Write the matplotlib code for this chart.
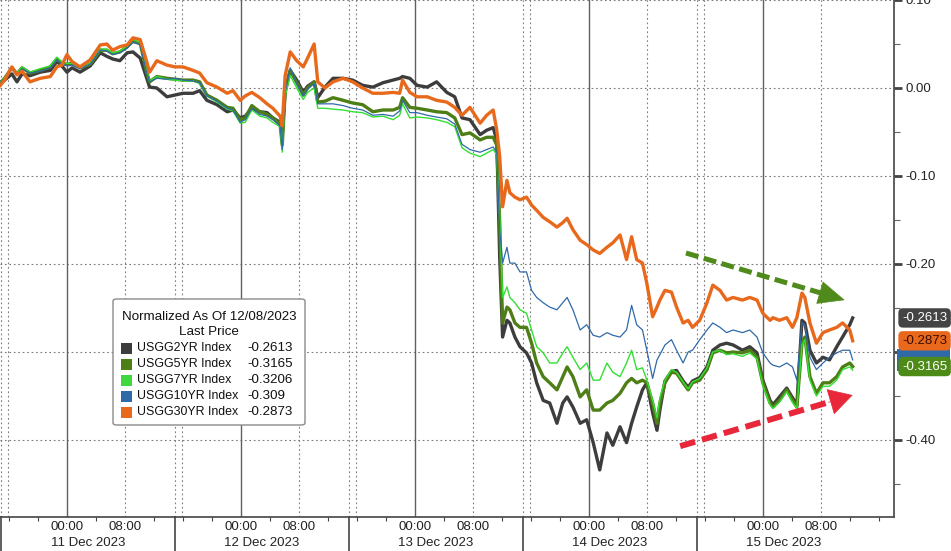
import matplotlib
matplotlib.use("Agg")
import matplotlib.pyplot as plt
import numpy as np
from matplotlib.transforms import blended_transform_factory
from matplotlib.patches import FancyBboxPatch, Rectangle
from matplotlib.ticker import FixedLocator, FuncFormatter

plt.rcParams['font.family'] = ['Liberation Sans', 'DejaVu Sans']

# ---------------- data (hours from 11 Dec 2023 00:00) ----------------
hours = [-9.2, -8.6, -7.6, -6.9, -6.2, -5.1, -3.7, -2.3, -1.4, -0.7,
         0.0, 0.7, 1.8, 3.2, 4.6, 5.5, 6.3, 7.3, 8.3, 9.1,
         10.1, 11.0, 11.4, 12.4, 13.8, 14.9, 16.0, 17.4, 18.3, 19.3,
         20.7, 22.1, 22.9, 23.9, 24.6, 25.5, 26.6, 27.6, 28.4, 29.4,
         29.7, 30.1, 30.8, 31.7, 32.6, 33.2, 34.1, 34.6, 35.6, 36.7,
         38.1, 39.4, 40.8, 42.2, 43.6, 45.0, 45.9, 46.3, 47.3, 48.3,
         49.7, 51.0, 52.4, 53.5, 54.5, 55.6, 57.0, 57.9, 58.8, 59.3,
         59.7, 60.1, 60.7, 61.1, 61.8, 62.5, 63.4, 64.1, 64.8, 65.7,
         66.6, 67.6, 68.4, 69.0, 69.8, 70.8, 71.7, 72.6, 73.5, 74.5,
         75.3, 76.3, 77.2, 77.9, 78.6, 79.4, 80.0, 80.8, 81.4, 81.8,
         82.5, 83.4, 84.1, 85.0, 85.7, 86.3, 87.3, 88.3, 89.1, 90.1,
         91.0, 91.9, 93.2, 94.2, 95.2, 96.0, 97.0, 97.4, 98.3, 99.3,
         100.1, 100.7, 101.4, 101.8, 102.5, 103.4, 104.3, 105.2, 106.2, 107.0,
         108.0, 108.4]

usgg2yr = [0.006, 0.009, 0.016, 0.007, 0.016, 0.014, 0.018, 0.020, 0.030, 0.025,
           0.018, 0.023, 0.018, 0.025, 0.040, 0.036, 0.033, 0.031, 0.040, 0.041,
           0.034, 0.011, 0.001, 0.000, -0.010, -0.008, -0.006, -0.006, -0.003, -0.014,
           -0.019, -0.027, -0.025, -0.034, -0.032, -0.023, -0.027, -0.028, -0.034, -0.039,
           -0.053, -0.002, 0.020, 0.009, -0.005, 0.002, 0.007, -0.011, 0.001, 0.011,
           0.011, 0.009, 0.003, 0.001, 0.006, 0.009, 0.011, 0.013, 0.011, 0.003,
           0.001, 0.007, -0.005, -0.010, -0.034, -0.036, -0.053, -0.048, -0.045, -0.059,
           -0.192, -0.283, -0.264, -0.267, -0.283, -0.294, -0.301, -0.3125, -0.335, -0.355,
           -0.358, -0.381, -0.358, -0.351, -0.3625, -0.381, -0.377, -0.403, -0.434, -0.392,
           -0.406, -0.385, -0.403, -0.381, -0.3625, -0.343, -0.335, -0.369, -0.389, -0.366,
           -0.333, -0.322, -0.321, -0.333, -0.340, -0.333, -0.329, -0.317, -0.298, -0.292,
           -0.290, -0.292, -0.298, -0.294, -0.301, -0.332, -0.355, -0.360, -0.351, -0.341,
           -0.352, -0.360, -0.264, -0.267, -0.298, -0.3125, -0.306, -0.309, -0.294, -0.283,
           -0.269, -0.2613]

usgg5yr = [0.006, 0.011, 0.023, 0.016, 0.023, 0.017, 0.020, 0.024, 0.033, 0.028,
           0.027, 0.028, 0.023, 0.027, 0.043, 0.043, 0.039, 0.041, 0.047, 0.053,
           0.051, 0.018, 0.007, 0.013, 0.011, 0.010, 0.009, 0.009, 0.007, -0.008,
           -0.014, -0.022, -0.023, -0.036, -0.034, -0.020, -0.027, -0.030, -0.034, -0.041,
           -0.065, -0.005, 0.020, 0.006, -0.008, 0.000, 0.007, -0.016, -0.015, -0.011,
           -0.014, -0.017, -0.019, -0.027, -0.025, -0.025, -0.022, -0.011, -0.022, -0.023,
           -0.025, -0.027, -0.028, -0.034, -0.053, -0.051, -0.059, -0.056, -0.056, -0.065,
           -0.153, -0.267, -0.249, -0.252, -0.267, -0.272, -0.272, -0.290, -0.3125, -0.328,
           -0.335, -0.343, -0.328, -0.317, -0.328, -0.351, -0.343, -0.366, -0.366, -0.358,
           -0.355, -0.347, -0.335, -0.330, -0.335, -0.332, -0.335, -0.358, -0.381, -0.358,
           -0.335, -0.323, -0.324, -0.335, -0.343, -0.335, -0.332, -0.320, -0.301, -0.298,
           -0.301, -0.300, -0.301, -0.298, -0.306, -0.335, -0.358, -0.3625, -0.355, -0.343,
           -0.355, -0.3625, -0.290, -0.283, -0.328, -0.347, -0.335, -0.335, -0.328, -0.317,
           -0.3125, -0.3165]

usgg7yr = [0.006, 0.011, 0.024, 0.017, 0.024, 0.018, 0.022, 0.025, 0.035, 0.030,
           0.028, 0.028, 0.023, 0.028, 0.044, 0.044, 0.040, 0.042, 0.048, 0.055,
           0.052, 0.019, 0.008, 0.013, 0.010, 0.009, 0.008, 0.008, 0.005, -0.009,
           -0.016, -0.024, -0.026, -0.040, -0.039, -0.025, -0.032, -0.034, -0.039, -0.044,
           -0.073, -0.009, 0.014, 0.000, -0.013, -0.005, 0.000, -0.023, -0.023, -0.024,
           -0.025, -0.027, -0.028, -0.033, -0.032, -0.036, -0.031, -0.018, -0.034, -0.033,
           -0.034, -0.036, -0.039, -0.044, -0.068, -0.074, -0.078, -0.074, -0.070, -0.076,
           -0.144, -0.238, -0.226, -0.238, -0.244, -0.252, -0.256, -0.275, -0.294, -0.301,
           -0.3125, -0.3125, -0.301, -0.294, -0.306, -0.320, -0.3125, -0.332, -0.332, -0.3125,
           -0.323, -0.328, -0.3125, -0.298, -0.320, -0.318, -0.332, -0.355, -0.375, -0.352,
           -0.332, -0.320, -0.323, -0.334, -0.342, -0.334, -0.330, -0.318, -0.300, -0.298,
           -0.303, -0.302, -0.305, -0.301, -0.308, -0.338, -0.360, -0.364, -0.357, -0.345,
           -0.357, -0.364, -0.292, -0.286, -0.332, -0.350, -0.339, -0.339, -0.332, -0.320,
           -0.317, -0.3206]

usgg10yr = [0.006, 0.010, 0.022, 0.015, 0.022, 0.017, 0.019, 0.023, 0.032, 0.027,
            0.025, 0.026, 0.022, 0.027, 0.043, 0.042, 0.038, 0.040, 0.045, 0.052,
            0.049, 0.017, 0.007, 0.011, 0.010, 0.011, 0.009, 0.008, 0.006, -0.009,
            -0.015, -0.023, -0.025, -0.039, -0.036, -0.023, -0.030, -0.032, -0.036, -0.043,
            -0.070, -0.005, 0.023, 0.005, -0.009, -0.001, 0.005, -0.018, -0.018, -0.018,
            -0.020, -0.023, -0.025, -0.031, -0.030, -0.032, -0.026, -0.014, -0.028, -0.028,
            -0.031, -0.033, -0.035, -0.041, -0.064, -0.070, -0.073, -0.070, -0.067, -0.073,
            -0.161, -0.199, -0.181, -0.199, -0.199, -0.209, -0.209, -0.230, -0.238, -0.244,
            -0.249, -0.252, -0.244, -0.238, -0.252, -0.275, -0.269, -0.281, -0.283, -0.278,
            -0.281, -0.283, -0.275, -0.247, -0.269, -0.275, -0.298, -0.330, -0.309, -0.303,
            -0.292, -0.286, -0.298, -0.3125, -0.300, -0.298, -0.286, -0.275, -0.267, -0.272,
            -0.278, -0.275, -0.278, -0.275, -0.283, -0.301, -0.3125, -0.315, -0.317, -0.3125,
            -0.317, -0.332, -0.267, -0.269, -0.306, -0.320, -0.3125, -0.306, -0.301, -0.298,
            -0.298, -0.309]

usgg30yr = [0.003, 0.009, 0.024, 0.015, 0.019, 0.007, 0.011, 0.013, 0.024, 0.026,
            0.038, 0.030, 0.024, 0.032, 0.049, 0.050, 0.043, 0.047, 0.049, 0.057,
            0.055, 0.030, 0.018, 0.031, 0.026, 0.024, 0.024, 0.020, 0.017, 0.006,
            0.001, -0.006, -0.003, -0.014, -0.009, -0.005, -0.011, -0.018, -0.023, -0.032,
            -0.043, 0.014, 0.041, 0.031, 0.024, 0.034, 0.050, 0.007, 0.000, 0.007,
            0.011, 0.007, 0.000, -0.006, -0.006, -0.005, -0.006, 0.009, -0.005, -0.010,
            -0.010, -0.014, -0.016, -0.022, -0.031, -0.022, -0.040, -0.031, -0.025, -0.048,
            -0.078, -0.135, -0.105, -0.119, -0.124, -0.127, -0.124, -0.133, -0.139, -0.147,
            -0.152, -0.158, -0.153, -0.148, -0.161, -0.173, -0.178, -0.184, -0.188, -0.181,
            -0.176, -0.167, -0.195, -0.169, -0.195, -0.199, -0.222, -0.260, -0.249, -0.241,
            -0.230, -0.232, -0.249, -0.267, -0.264, -0.272, -0.264, -0.244, -0.224, -0.230,
            -0.241, -0.238, -0.241, -0.238, -0.241, -0.256, -0.264, -0.261, -0.264, -0.261,
            -0.272, -0.261, -0.233, -0.238, -0.267, -0.290, -0.278, -0.275, -0.272, -0.267,
            -0.275, -0.2873]

series_names = ["USGG2YR Index", "USGG5YR Index", "USGG7YR Index",
                "USGG10YR Index", "USGG30YR Index"]
series_values = [usgg2yr, usgg5yr, usgg7yr, usgg10yr, usgg30yr]
last_values = [-0.2613, -0.3165, -0.3206, -0.309, -0.2873]
day_labels = ["11 Dec 2023", "12 Dec 2023", "13 Dec 2023", "14 Dec 2023", "15 Dec 2023"]
time_labels = ["00:00", "08:00"]
y_ticks = [-0.4, -0.3, -0.2, -0.1, 0.0, 0.1]

# ---------------- styles ----------------
colors = ["#3d3d3d", "#4e7e16", "#33e033", "#2f6aa8", "#e8691c"]
widths = [2.4, 2.4, 1.0, 0.9, 2.4]
zorders = [3, 4, 5, 6, 7]

W, H = 951, 551
fig = plt.figure(figsize=(W / 100, H / 100), dpi=100)
fig.patch.set_facecolor("white")
ax = fig.add_axes([0, 34 / H, 894 / W, 517 / H])
XMIN, XMAX = -9.24, 114.1
ax.set_xlim(XMIN, XMAX)
ax.set_ylim(-0.4875, 0.1)

grid_c = "#7a7a7a"
dotted = (0, (1.5, 2.5))
for v in y_ticks:
    ax.axhline(v, color=grid_c, lw=0.8, ls=dotted, zorder=0.5)
bounds = [14.9 + 24 * (k - 1) for k in range(5)]
for k in range(5):
    ax.axvline(24 * k, color="#606060", lw=1.0, zorder=0.5)
    ax.axvline(24 * k + 8, color=grid_c, lw=0.8, ls=dotted, zorder=0.5)
for b in bounds:
    ax.axvline(b, color=grid_c, lw=0.8, ls=dotted, zorder=0.5)
    ax.axvline(b + 0.95, color=grid_c, lw=0.8, ls=dotted, zorder=0.5)

for vals, c, lw, z in zip(series_values, colors, widths, zorders):
    ax.plot(hours, vals, color=c, lw=lw, zorder=z, solid_joinstyle="round")

for s in ["top", "left"]:
    ax.spines[s].set_visible(False)
for s in ["right", "bottom"]:
    ax.spines[s].set_color("#444444")
    ax.spines[s].set_linewidth(1.2)

ax.yaxis.tick_right()
ax.yaxis.set_major_locator(FixedLocator(y_ticks))
ax.yaxis.set_minor_locator(FixedLocator([v - 0.05 for v in y_ticks]))
ax.yaxis.set_major_formatter(FuncFormatter(lambda v, p: "0.00" if abs(v) < 1e-9 else f"{v:.2f}"))
ax.tick_params(axis="y", which="major", direction="out", length=6, width=2,
               color="#444444", labelsize=9.5, pad=2, labelcolor="#222222")
ax.tick_params(axis="y", which="minor", direction="out", length=4, width=0.8, color="#666666")

major_x = []
major_lbl = []
for k in range(5):
    major_x += [24 * k, 24 * k + 8]
    major_lbl += time_labels
ax.set_xticks(major_x)
ax.set_xticklabels(major_lbl)
ax.xaxis.set_minor_locator(FixedLocator(np.arange(-8, 114, 4)))
ax.tick_params(axis="x", which="major", length=0, pad=3, labelsize=9.5, labelcolor="#222222")
ax.tick_params(axis="x", which="minor", direction="out", length=3, width=0.8, color="#444444")

bt = blended_transform_factory(ax.transData, fig.transFigure)
for k, d in enumerate(day_labels):
    ax.text(bounds[k] + 12, 1 - 543 / H, d, transform=bt, ha="center", va="center",
            fontsize=9.5, color="#222222")
bta = blended_transform_factory(ax.transData, ax.transAxes)
for b in [XMIN + 0.08] + bounds[1:]:
    ax.plot([b, b], [0, -0.075], transform=bta, color="#444444", lw=1.2, clip_on=False)

# right-side value labels (10YR tag sits hidden behind its neighbours: only a strip shows)
bty = blended_transform_factory(ax.transAxes, ax.transData)
v10 = last_values[3]
ax.add_patch(Rectangle((1.003, v10 - 0.0125), 0.06, 0.025, transform=bty,
                       fc="#2f6aa8", ec="none", zorder=19, clip_on=False))
lab_specs = [(1, "#4e8a18", "white"), (4, "#e8691c", "#3a0c00"), (0, "#444444", "white")]
for zi, (i, fc, tc) in enumerate(lab_specs):
    v = last_values[i]
    ax.text(1.009, v, f"{v:.4f}".rstrip("0"), transform=bty, ha="left", va="center",
            fontsize=9.5, color=tc, zorder=20 + zi, clip_on=False,
            bbox=dict(boxstyle="round,pad=0.28,rounding_size=0.35", fc=fc, ec="none"))

def dashed_arrow(p0, p1, color, lw, dashes, frac, hl, hw, ms):
    x0, y0 = p0
    x1, y1 = p1
    xa, ya = x0 + (x1 - x0) * frac, y0 + (y1 - y0) * frac
    ax.plot([x0, xa], [y0, ya], color=color, lw=lw, ls=(0, dashes),
            dash_capstyle="butt", zorder=15)
    xh, yh = x0 + (x1 - x0) * (frac - 0.02), y0 + (y1 - y0) * (frac - 0.02)
    ax.annotate("", xy=(x1, y1), xytext=(xh, yh),
                arrowprops=dict(arrowstyle=f"-|>,head_length={hl},head_width={hw}",
                                color=color, lw=0.5, mutation_scale=ms,
                                shrinkA=0, shrinkB=0), zorder=15)

dashed_arrow((85.4, -0.1875), (107.3, -0.241), "#4f8a1a", 3.6, (2.6, 1.1), 0.86, 0.9, 0.4, 20)
dashed_arrow((84.6, -0.407), (108.4, -0.349), "#e8283a", 4.3, (2.6, 1.2), 0.88, 0.8, 0.45, 20)

def fx(px):
    return px / W

def fy(py):
    return 1 - py / H

box = FancyBboxPatch((fx(113), fy(425)), fx(305) - fx(113), fy(299) - fy(425),
                     boxstyle="round,pad=0,rounding_size=0.004",
                     transform=fig.transFigure, fc="white", ec="#8a8a8a", lw=1.0, zorder=30)
fig.add_artist(box)
fig.text(fx(209), fy(317), "Normalized As Of 12/08/2023", ha="center", va="center",
         fontsize=9.6, color="#111111", zorder=31)
fig.text(fx(209), fy(332), "Last Price", ha="center", va="center",
         fontsize=9.6, color="#111111", zorder=31)
for j, (nm, lv, c) in enumerate(zip(series_names, last_values, colors)):
    ry = 348 + 16 * j
    sq_c = "#3fd93f" if j == 2 else c
    fig.add_artist(Rectangle((fx(121), fy(ry + 5.5)), 11 / W, 11 / H,
                             transform=fig.transFigure, fc=sq_c, ec="none", zorder=31))
    fig.text(fx(137), fy(ry), nm, ha="left", va="center", fontsize=8.9,
             color="#111111", zorder=31)
    fig.text(fx(247), fy(ry), f"{lv:.4f}".rstrip("0"), ha="left", va="center",
             fontsize=9.6, color="#111111", zorder=31)

fig.savefig("out.png", dpi=100, facecolor="white")
